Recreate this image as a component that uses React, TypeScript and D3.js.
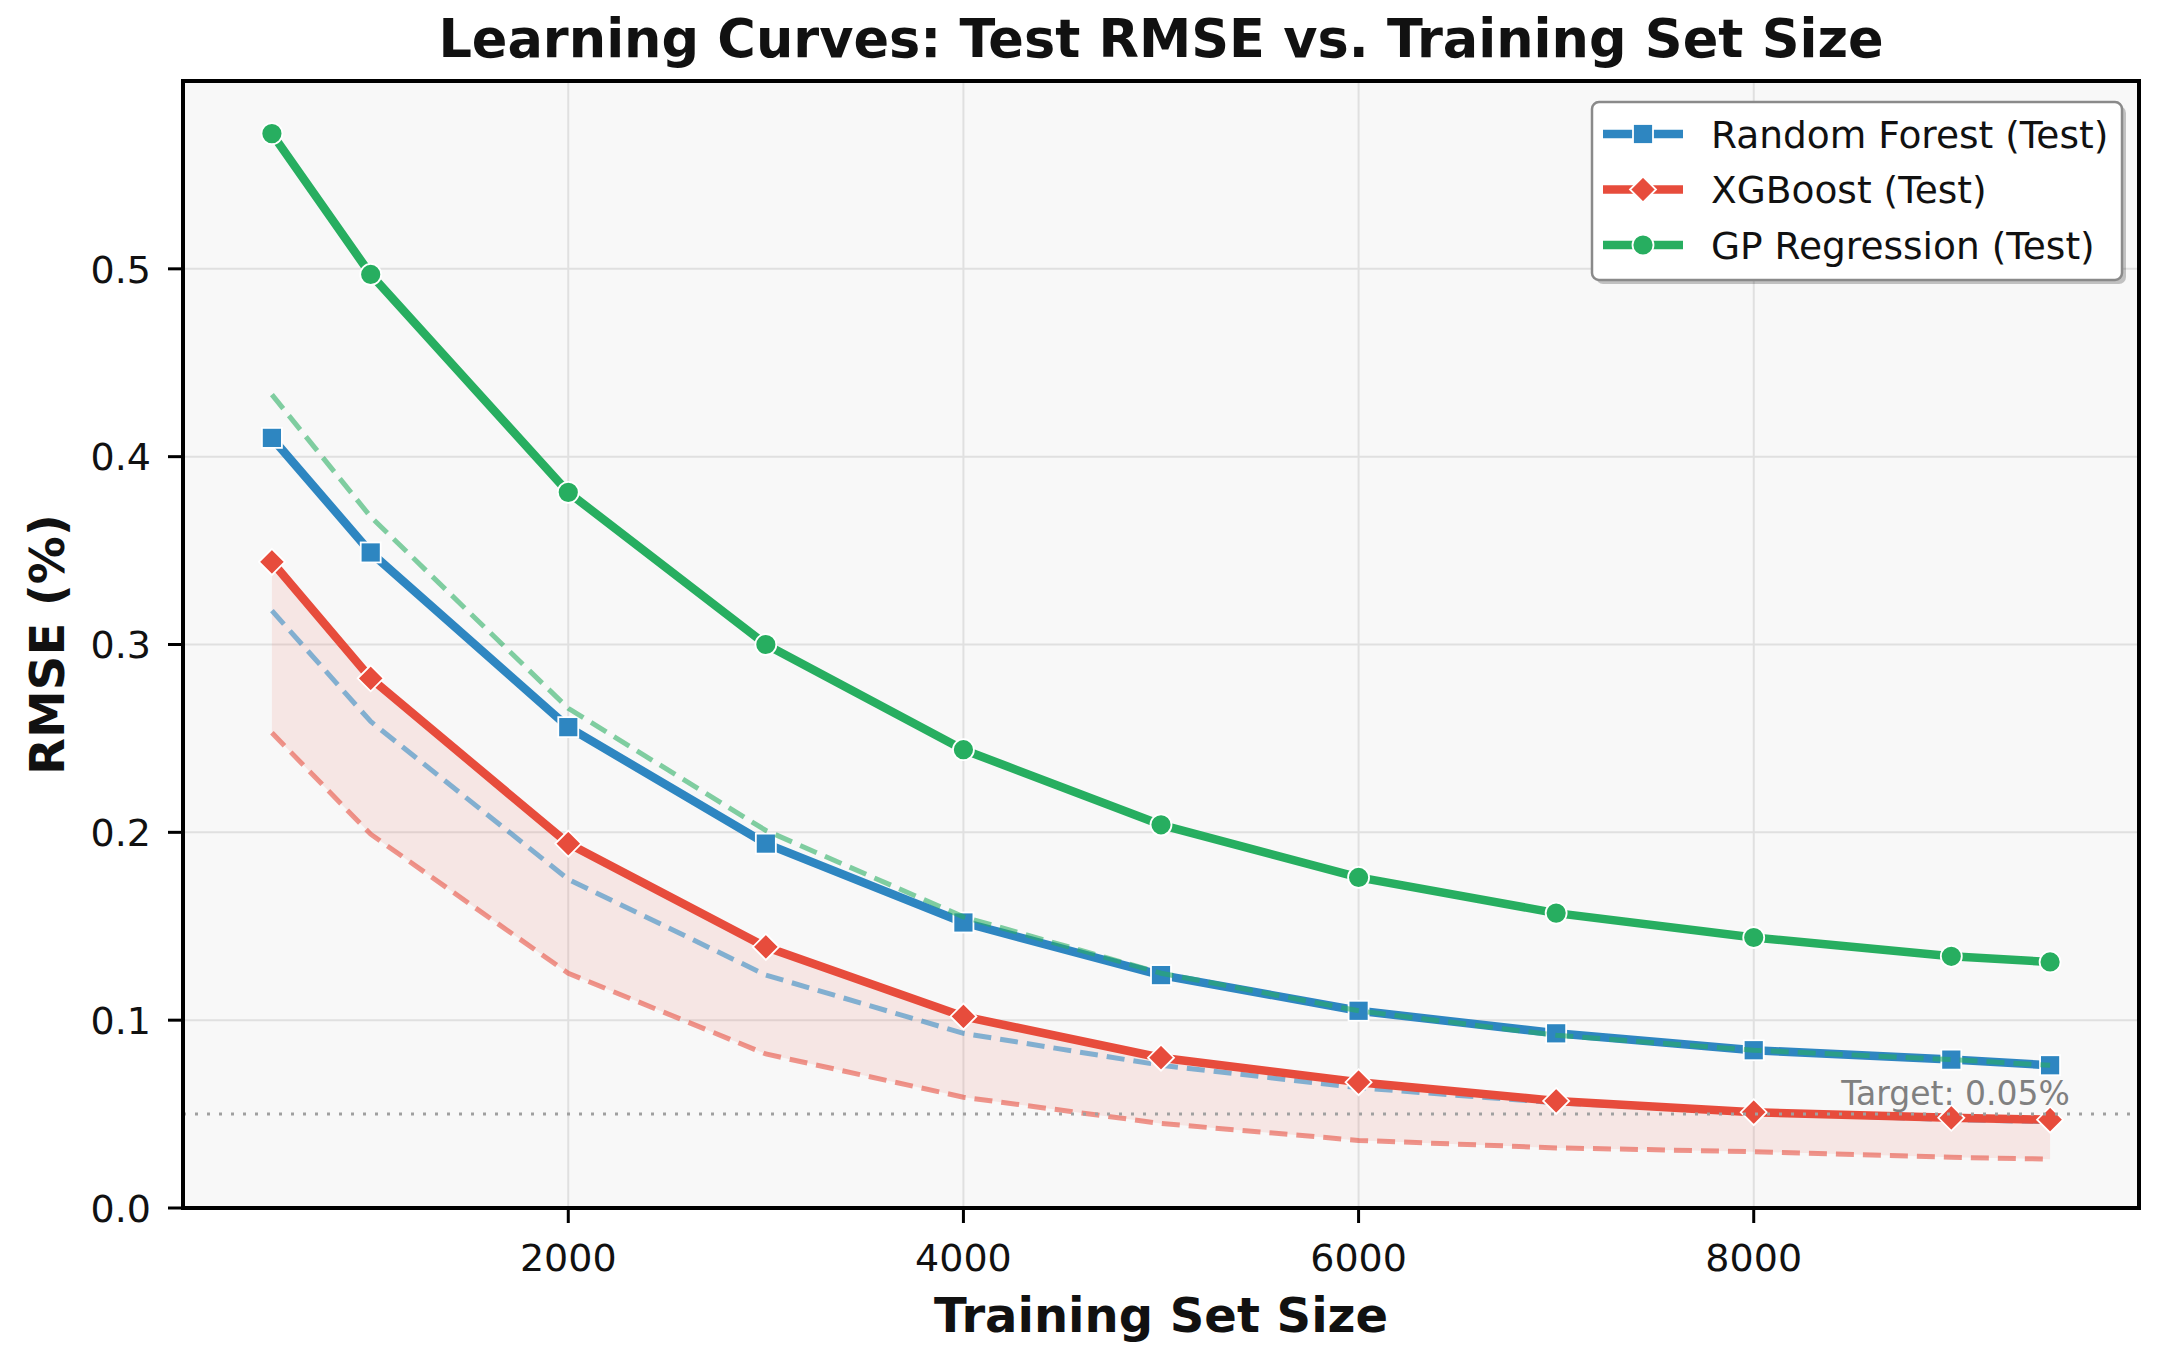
import { useMemo } from 'react';
import * as d3 from 'd3';

// training set sizes (x)
const sizes = [500, 1000, 2000, 3000, 4000, 5000, 6000, 7000, 8000, 9000, 9500];

// test RMSE (solid lines)
const rfTest = [0.410, 0.349, 0.256, 0.194, 0.152, 0.124, 0.105, 0.093, 0.084, 0.079, 0.076];
const xgbTest = [0.344, 0.282, 0.194, 0.139, 0.102, 0.080, 0.067, 0.057, 0.051, 0.048, 0.047];
const gpTest = [0.572, 0.497, 0.381, 0.300, 0.244, 0.204, 0.176, 0.157, 0.144, 0.134, 0.131];

// train RMSE (faint dashed lines)
const rfTrain = [0.318, 0.259, 0.175, 0.124, 0.093, 0.076, 0.064, 0.056, 0.051, 0.047, 0.046];
const xgbTrain = [0.253, 0.199, 0.125, 0.082, 0.059, 0.045, 0.036, 0.032, 0.030, 0.027, 0.026];
const gpTrain = [0.433, 0.368, 0.266, 0.201, 0.155, 0.125, 0.105, 0.092, 0.084, 0.079, 0.076];

const yTicks = [0.0, 0.1, 0.2, 0.3, 0.4, 0.5];
const xTicks = [2000, 4000, 6000, 8000];
const target = 0.05;

const models = [
  { name: 'Random Forest (Test)', color: '#2e86c1', marker: 'square', test: rfTest, train: rfTrain },
  { name: 'XGBoost (Test)', color: '#e74c3c', marker: 'diamond', test: xgbTest, train: xgbTrain },
  { name: 'GP Regression (Test)', color: '#27ae60', marker: 'circle', test: gpTest, train: gpTrain },
];

const W = 2178;
const H = 1371;
const plot = { left: 183, right: 2139, top: 81, bottom: 1208 };
const FONT = 'DejaVu Sans, sans-serif';

function Marker({ kind, x, y, color }: { kind: string; x: number; y: number; color: string }) {
  const s = 10;
  if (kind === 'square') {
    return <rect x={x - s} y={y - s} width={s * 2} height={s * 2} fill={color} stroke="#fff" strokeWidth={1.8} />;
  }
  if (kind === 'diamond') {
    const d = 13;
    return (
      <path
        d={`M${x},${y - d}L${x + d},${y}L${x},${y + d}L${x - d},${y}Z`}
        fill={color}
        stroke="#fff"
        strokeWidth={1.8}
      />
    );
  }
  return <circle cx={x} cy={y} r={10.5} fill={color} stroke="#fff" strokeWidth={1.8} />;
}

export default function App() {
  const x = useMemo(() => d3.scaleLinear().domain([50, 9950]).range([plot.left, plot.right]), []);
  const y = useMemo(() => d3.scaleLinear().domain([0, 0.6]).range([plot.bottom, plot.top]), []);

  const line = d3
    .line<number>()
    .x((_, i) => x(sizes[i]))
    .y((d) => y(d));

  const band = d3
    .area<number>()
    .x((_, i) => x(sizes[i]))
    .y0((_, i) => y(xgbTrain[i]))
    .y1((d) => y(d));

  const x0 = plot.left;
  const x1 = plot.right;
  const y0 = plot.bottom;
  const y1 = plot.top;

  const legX = 1592;
  const legY = 102;
  const legW = 530;
  const legH = 178;

  return (
    <svg width={W} height={H} style={{ position: 'absolute', left: 0, top: 0, background: '#fff' }} fontFamily={FONT}>
      {/* plot background */}
      <rect x={x0} y={y1} width={x1 - x0} height={y0 - y1} fill="#f8f8f8" />

      {/* grid */}
      {yTicks.map((t) => (
        <line key={'gy' + t} x1={x0} x2={x1} y1={y(t)} y2={y(t)} stroke="#e0e0e0" strokeWidth={2} />
      ))}
      {xTicks.map((t) => (
        <line key={'gx' + t} x1={x(t)} x2={x(t)} y1={y0} y2={y1} stroke="#e0e0e0" strokeWidth={2} />
      ))}

      {/* spread band for XGBoost */}
      <path d={band(xgbTest) || ''} fill="#e74c3c" fillOpacity={0.1} />

      {/* curves */}
      {models.map((m) => (
        <g key={m.name}>
          <path d={line(m.test) || ''} fill="none" stroke={m.color} strokeWidth={8.5} strokeLinejoin="round" />
          {m.test.map((v, i) => (
            <Marker key={i} kind={m.marker} x={x(sizes[i])} y={y(v)} color={m.color} />
          ))}
          <path
            d={line(m.train) || ''}
            fill="none"
            stroke={m.color}
            strokeOpacity={0.58}
            strokeWidth={5}
            strokeDasharray="18 9"
          />
        </g>
      ))}

      {/* target line */}
      <line
        x1={x0}
        x2={x1}
        y1={y(target)}
        y2={y(target)}
        stroke="#a0a0a0"
        strokeWidth={3}
        strokeDasharray="3 9"
      />
      <text x={x(9600)} y={y(target) - 9} textAnchor="end" fontSize={33} fill="#808080">
        Target: 0.05%
      </text>

      {/* spines */}
      <rect x={x0} y={y1} width={x1 - x0} height={y0 - y1} fill="none" stroke="#000" strokeWidth={4} />

      {/* y axis */}
      {yTicks.map((t) => (
        <g key={'ty' + t}>
          <line x1={x0 - 15} x2={x0} y1={y(t)} y2={y(t)} stroke="#000" strokeWidth={3} />
          <text x={x0 - 32} y={y(t)} dy="0.36em" textAnchor="end" fontSize={38} fill="#111">
            {t.toFixed(1)}
          </text>
        </g>
      ))}

      {/* x axis */}
      {xTicks.map((t) => (
        <g key={'tx' + t}>
          <line x1={x(t)} x2={x(t)} y1={y0} y2={y0 + 15} stroke="#000" strokeWidth={3} />
          <text x={x(t)} y={y0 + 63} textAnchor="middle" fontSize={38} fill="#111">
            {t}
          </text>
        </g>
      ))}

      {/* labels */}
      <text x={(x0 + x1) / 2} y={57} textAnchor="middle" fontSize={52.5} fontWeight="bold" fill="#111">
        Learning Curves: Test RMSE vs. Training Set Size
      </text>
      <text x={(x0 + x1) / 2} y={1332} textAnchor="middle" fontSize={48} fontWeight="bold" fill="#111">
        Training Set Size
      </text>
      <text
        transform={`translate(64,${(y0 + y1) / 2}) rotate(-90)`}
        textAnchor="middle"
        fontSize={48}
        fontWeight="bold"
        fill="#111"
      >
        RMSE (%)
      </text>

      {/* legend */}
      <rect x={legX + 4} y={legY + 4} width={legW} height={legH} rx={7} fill="#000" fillOpacity={0.22} />
      <rect x={legX} y={legY} width={legW} height={legH} rx={7} fill="#fff" stroke="#8a8a8a" strokeWidth={2.5} />
      {models.map((m, i) => {
        const ly = legY + 32 + i * 55.5;
        return (
          <g key={'lg' + m.name}>
            <line x1={legX + 11} x2={legX + 91} y1={ly} y2={ly} stroke={m.color} strokeWidth={8.5} />
            <Marker kind={m.marker} x={legX + 51} y={ly} color={m.color} />
            <text x={legX + 119} y={ly} dy="0.36em" fontSize={37.5} fill="#111">
              {m.name}
            </text>
          </g>
        );
      })}
    </svg>
  );
}
